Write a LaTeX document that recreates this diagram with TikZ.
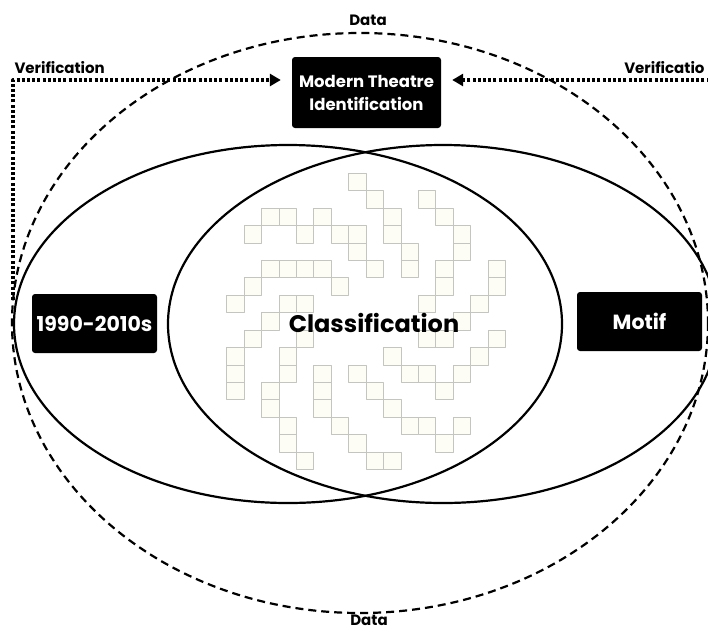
\documentclass[tikz,border=0pt]{standalone}
\usepackage{fontspec}
\setmainfont{Poppins}
\usetikzlibrary{arrows.meta}
\definecolor{cellfill}{RGB}{253,252,245}
\definecolor{celledge}{RGB}{196,196,192}

\begin{document}
\begin{tikzpicture}[x=1pt,y=-1pt,line join=round,
  hub/.style={fill=black,rounded corners=3pt,text=white,inner sep=0pt,align=center},
  ring/.style={line width=2.2pt},
  cell/.style={fill=cellfill,draw=celledge,line width=0.8pt},
  verif/.style={line width=3.2pt,dash pattern=on 3pt off 2.2pt,shorten >=11pt,-{Triangle[length=11pt,width=12pt]}},
  tag/.style={font=\fontsize{15}{18}\selectfont\bfseries}]
\useasboundingbox (0,0) rectangle (708,632);
\clip (0,0) rectangle (708,632);
% outer data ring and the two sets
\draw[ring,dash pattern=on 8pt off 5pt] (360,323) ellipse (348 and 290);
\draw[ring] (288,324) ellipse (274 and 179);
\draw[ring] (443,324) ellipse (275 and 179);
% pinwheel of cells, col/row
\foreach \c/\r in {7/0, 8/1, 11/1, 2/2, 3/2, 5/2, 9/2, 12/2,
  1/3, 4/3, 6/3, 7/3, 9/3, 13/3, 7/4, 10/4, 13/4,
  2/5, 3/5, 4/5, 5/5, 8/5, 10/5, 12/5, 15/5, 1/6, 6/6, 12/6, 15/6,
  0/7, 3/7, 4/7, 11/7, 14/7, 2/8, 13/8, 1/9, 4/9, 11/9, 12/9, 15/9,
  0/10, 3/10, 9/10, 14/10, 0/11, 3/11, 5/11, 7/11, 10/11, 11/11, 13/11,
  0/12, 2/12, 5/12, 8/12, 12/12, 2/13, 5/13, 9/13,
  3/14, 6/14, 10/14, 11/14, 13/14, 3/15, 7/15, 12/15, 4/16, 8/16, 9/16}
  \draw[cell] (226.7+17.42*\c,173.3+17.42*\r) rectangle ++(17.42,17.42);
% boxes
\node[hub,minimum width=149pt,minimum height=71pt,font=\fontsize{16.5}{23}\selectfont\bfseries] (mti) at (366.5,92.5) {Modern Theatre\\Identification};
\node[hub,minimum width=125pt,minimum height=59pt,font=\fontsize{20.5}{24}\selectfont\bfseries] (era) at (94.5,323.5) {1990-2010s};
\node[hub,minimum width=125pt,minimum height=59pt,font=\fontsize{20.5}{24}\selectfont\bfseries] (motif) at (639.5,321.5) {Motif};
\node[font=\fontsize{24}{28}\selectfont\bfseries] (cls) at (374,323) {Classification};
% labels
\node[tag] (dtop) at (368,20) {Data};
\node[tag] (dbot) at (369,620) {Data};
\node[tag,anchor=west] (vleft) at (11,68) {Verification};
\node[tag,anchor=east] (vright) at (708,68) {Verificatio};
% verification loops
\coordinate (lfoot) at (13,300);
\coordinate (lbend) at (13,80);
\coordinate (rfoot) at (720,80);
\draw[verif] (lfoot) -- (lbend) -- (lbend -| mti.west);
\draw[verif] (rfoot) -- (rfoot -| mti.east);
\end{tikzpicture}
\end{document}
